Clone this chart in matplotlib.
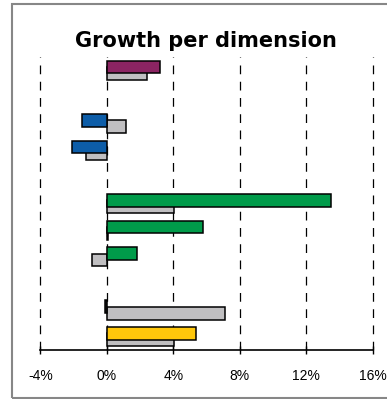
import numpy as np
import matplotlib.pyplot as plt
from matplotlib.patches import Rectangle

# rows from top to bottom, empty rows are spacers (nan)
current = [3.2, np.nan, -1.5, -2.1, np.nan, 13.5, 5.8, 1.8, np.nan, -0.1, 5.35]
previous = [2.4, np.nan, 1.15, -1.25, np.nan, 4.05, 0.1, -0.9, np.nan, 7.1, 4.05]
colors = ['#8B2462', 'w', '#0D5DA8', '#0D5DA8', 'w', '#009B4A', '#009B4A',
          '#009B4A', 'w', '#222222', '#FFC70B']
ticks = [-4, 0, 4, 8, 12, 16]

fig = plt.figure(figsize=(3.87, 3.99), dpi=100)
ax = fig.add_axes([0.1041, 0.1228, 0.8589, 0.7344])

ys = np.arange(len(current))
h = 0.48
# gray bars behind, coloured bars on top
ax.barh(ys + 0.12, previous, height=h, color='#C0BFC1', edgecolor='black',
        linewidth=1.1, zorder=3)
ax.barh(ys - 0.12, current, height=h, color=colors, edgecolor='black',
        linewidth=1.1, zorder=4)

ax.set_ylim(len(current) - 0.5, -0.5)
ax.set_xlim(-4, 16)
ax.set_xticks(ticks)
ax.set_xticklabels(['%d%%' % t for t in ticks], fontsize=10,
                   family='Liberation Sans')
ax.set_yticks([])
ax.tick_params(axis='x', direction='inout', length=6, width=1, pad=11)
for s in ['top', 'left', 'right']:
    ax.spines[s].set_visible(False)
ax.spines['bottom'].set_linewidth(1.2)
for t in ticks:
    ax.axvline(t, color='black', linestyle=(0, (7, 6)), linewidth=0.9,
               zorder=1, clip_on=False)

fig.text(0.533, 0.898, 'Growth per dimension', ha='center', va='center',
         fontsize=15, fontweight='bold', family='DejaVu Sans')

# outer frame, its right side is outside the picture
fig.patches.append(Rectangle((11.5 / 387, 1.5 / 399), 1.2, 393.5 / 399,
                             transform=fig.transFigure, fill=False,
                             edgecolor='#878787', linewidth=1.5))

fig.savefig('out.png', dpi=100)
